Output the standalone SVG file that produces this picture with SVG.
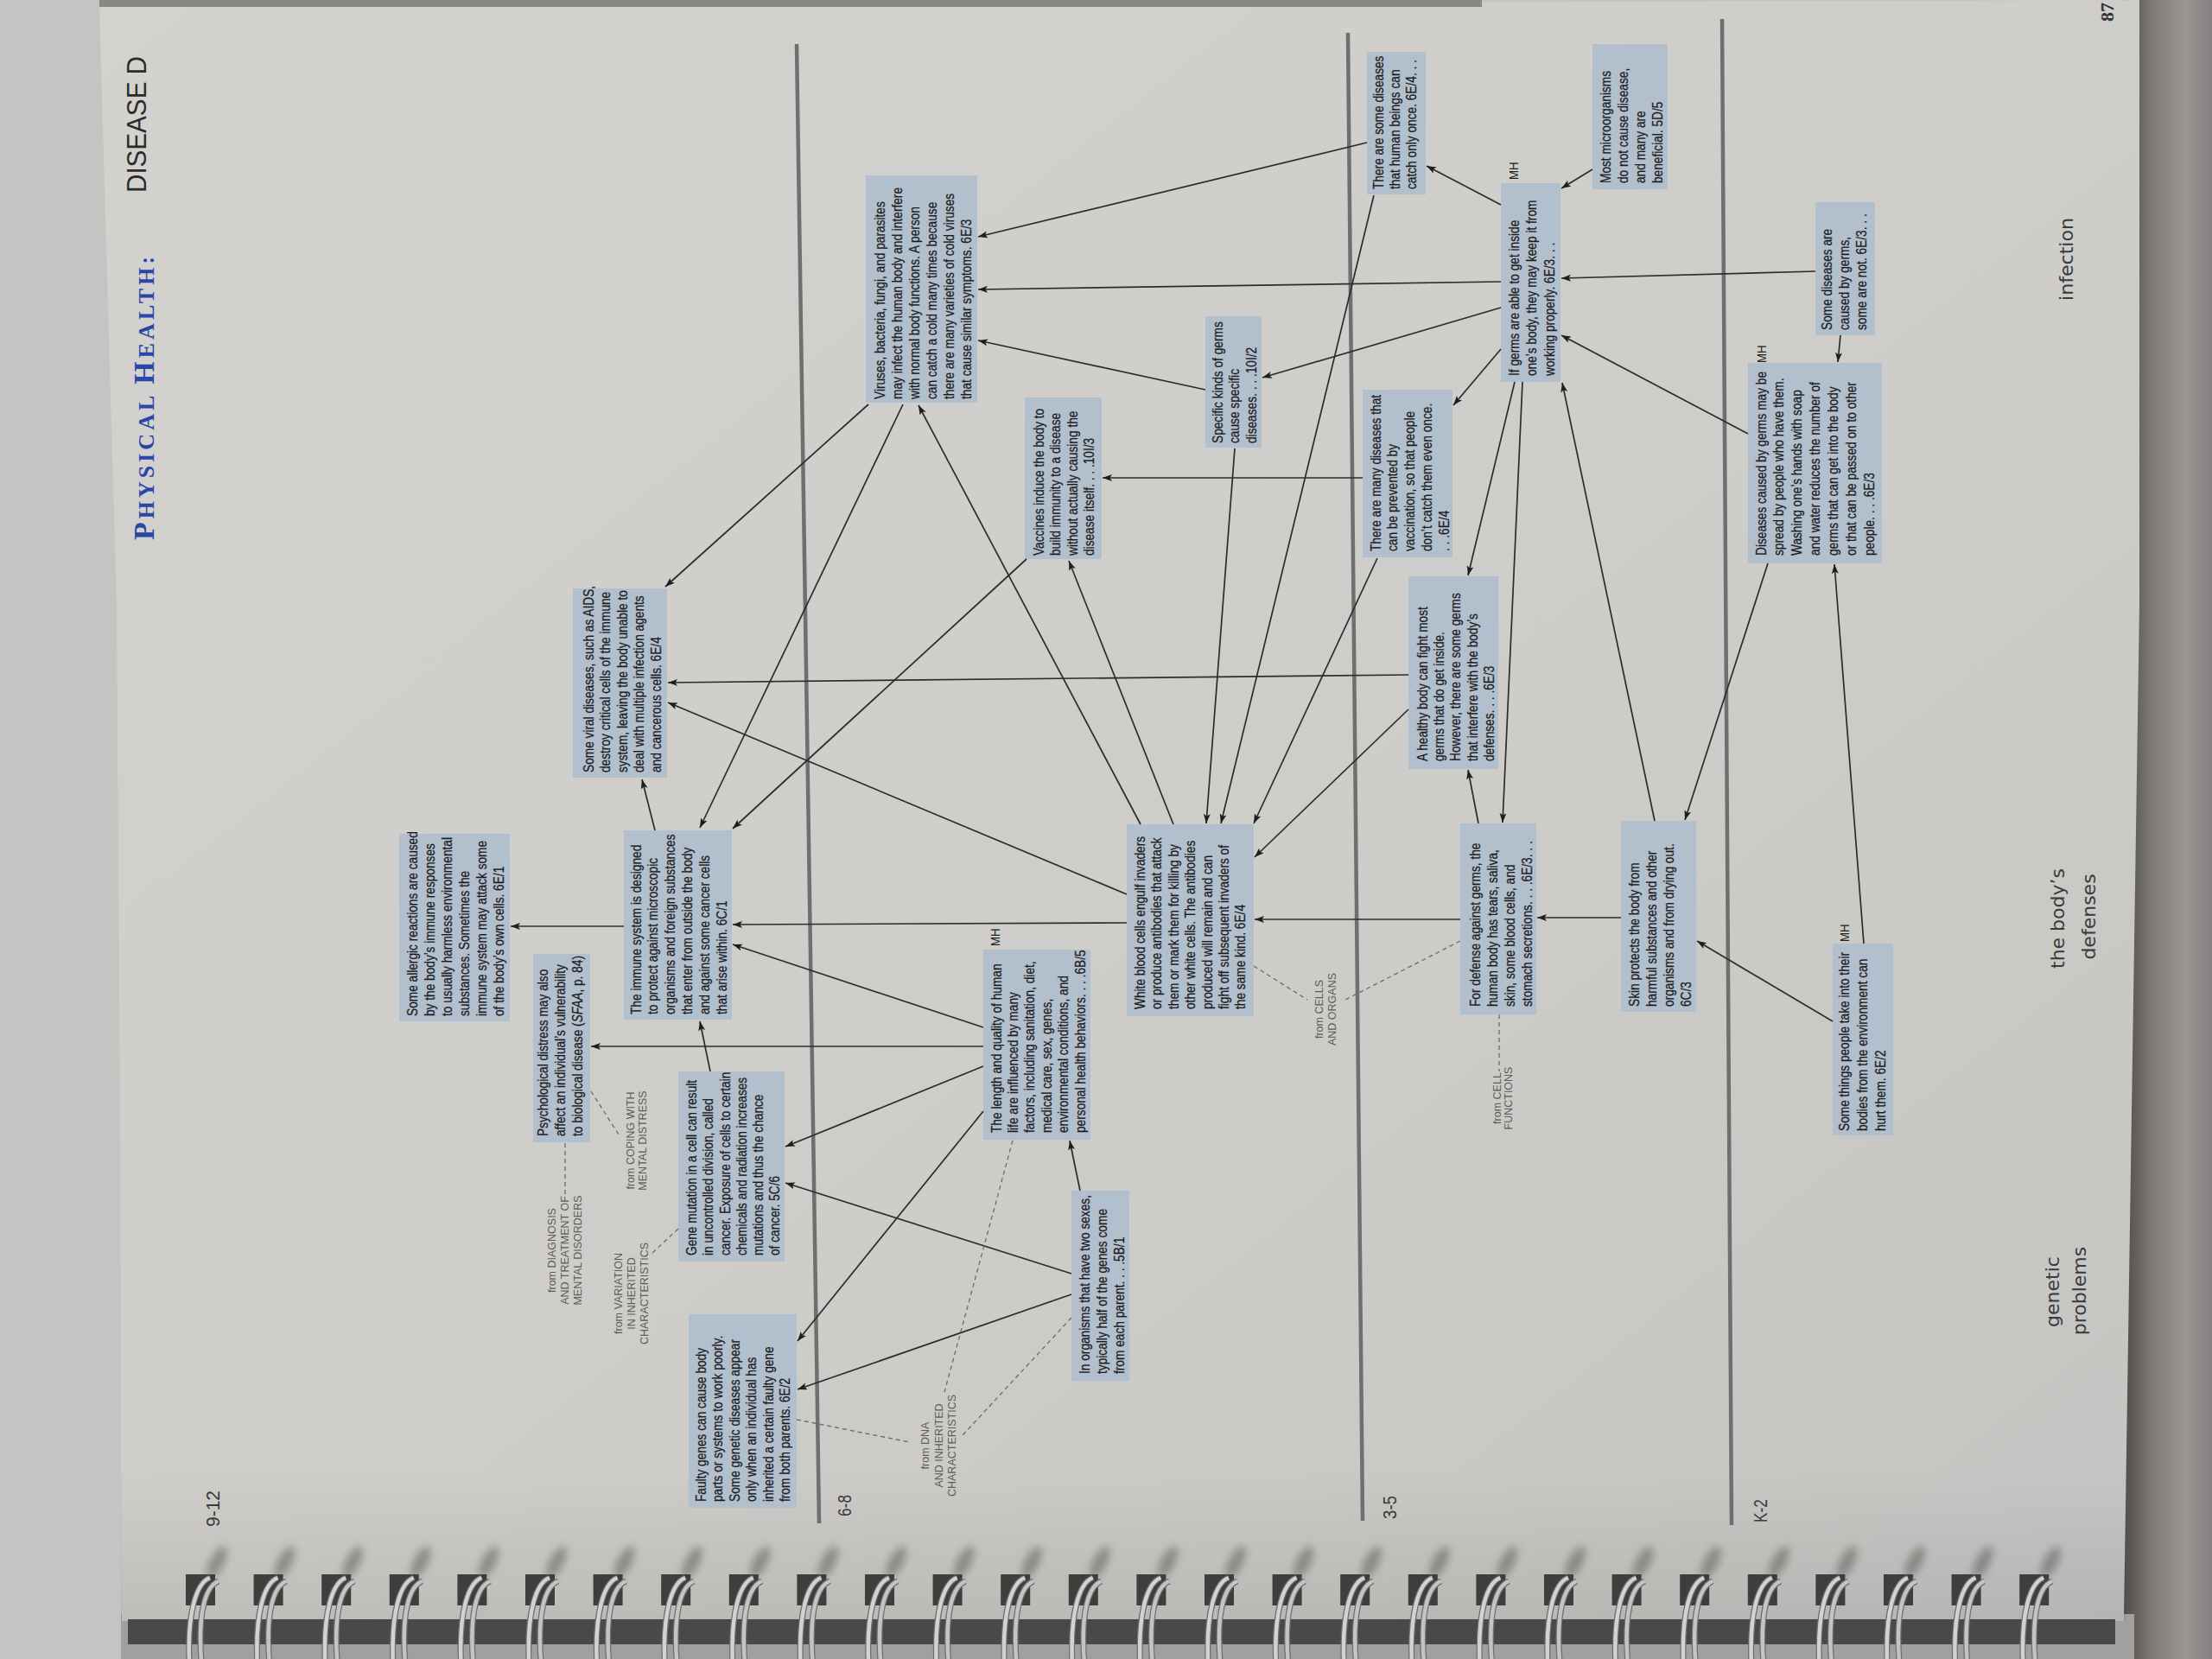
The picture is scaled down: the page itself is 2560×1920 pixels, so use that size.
<svg xmlns="http://www.w3.org/2000/svg" width="2560" height="1920" viewBox="0 0 2560 1920">
<defs>
<style>
.nb{fill:#b2bfcc}
.nt{font-family:"Liberation Sans",Arial,sans-serif;font-size:16.5px;fill:#1b1b1d;stroke:#1b1b1d;stroke-width:0.25}
.mh{font-family:"Liberation Sans",Arial,sans-serif;font-size:15px;fill:#222}
.fr{font-family:"Liberation Sans",Arial,sans-serif;font-size:12.5px;fill:#5c5c5c;text-anchor:middle}
.c{stroke:#2c2c2c;stroke-width:1.7;fill:none;marker-end:url(#ah)}
.d{stroke:#6b6b6b;stroke-width:1.3;fill:none;stroke-dasharray:5 4}
.dv{stroke:#6f6f72;stroke-width:4.5}
.gr{font-family:"Liberation Sans",Arial,sans-serif;font-size:22px;fill:#3a3a3a}
.tp{font-family:"DejaVu Sans",Verdana,sans-serif;font-size:22px;fill:#3b3b3b}
</style>
<marker id="ah" markerUnits="userSpaceOnUse" markerWidth="13" markerHeight="9" refX="11" refY="4" orient="auto"><path d="M0,0 L11,4 L0,8 L2.5,4 z" fill="#1e1e1e"/></marker>
<linearGradient id="paper" x1="0" y1="0" x2="1" y2="1"><stop offset="0" stop-color="#d3d2ce"/><stop offset="0.55" stop-color="#cecdc9"/><stop offset="1" stop-color="#c4c4c2"/></linearGradient>
<linearGradient id="rside" x1="0" y1="0" x2="1" y2="0"><stop offset="0" stop-color="#4c4846"/><stop offset="0.35" stop-color="#7f7b79"/><stop offset="0.7" stop-color="#9a9694"/><stop offset="1" stop-color="#858180"/></linearGradient>
<linearGradient id="bshade" x1="0" y1="0" x2="0" y2="1"><stop offset="0" stop-color="#000" stop-opacity="0"/><stop offset="1" stop-color="#000" stop-opacity="0.08"/></linearGradient>
<filter id="bl" x="-50%" y="-50%" width="200%" height="200%"><feGaussianBlur stdDeviation="5"/></filter>
<g id="ring">
<ellipse cx="36" cy="-14" rx="8" ry="20" transform="rotate(28 36 -14)" fill="#4a4846" opacity="0.45" filter="url(#bl)"/>
<rect x="0" y="0" width="34" height="36" fill="#403e3d"/>
<path d="M28,4 C12,10 2,44 4,100" stroke="#6e6e6e" stroke-width="7" fill="none"/>
<path d="M28,4 C12,10 2,44 4,100" stroke="#d2d2d2" stroke-width="4.5" fill="none"/>
<path d="M38,8 C22,14 14,46 18,100" stroke="#6e6e6e" stroke-width="7" fill="none"/>
<path d="M38,8 C22,14 14,46 18,100" stroke="#c4c4c4" stroke-width="4.5" fill="none"/>
</g>
</defs>

<!-- background -->
<rect x="0" y="0" width="2560" height="1920" fill="#c6c4c3"/>
<rect x="2455" y="0" width="105" height="1920" fill="url(#rside)"/>
<rect x="140" y="1868" width="2330" height="52" fill="#a2a09f"/>
<polygon points="115,8 2476,0 2476,700 2458,1876 141,1876 139,1300 135,700" fill="url(#paper)"/>
<rect x="140" y="1700" width="2320" height="176" fill="url(#bshade)"/>
<rect x="115" y="0" width="1600" height="8" fill="#8a8887"/>
<rect x="148" y="1874" width="2300" height="29" fill="#4b4948"/>

<!-- binding rings -->
<g id="binding">
<use href="#ring" x="215" y="1822"/><use href="#ring" x="293.6" y="1822"/><use href="#ring" x="372.2" y="1822"/><use href="#ring" x="450.8" y="1822"/><use href="#ring" x="529.4" y="1822"/><use href="#ring" x="608" y="1822"/><use href="#ring" x="686.6" y="1822"/><use href="#ring" x="765.2" y="1822"/><use href="#ring" x="843.8" y="1822"/><use href="#ring" x="922.4" y="1822"/><use href="#ring" x="1001" y="1822"/><use href="#ring" x="1079.6" y="1822"/><use href="#ring" x="1158.2" y="1822"/><use href="#ring" x="1236.8" y="1822"/><use href="#ring" x="1315.4" y="1822"/><use href="#ring" x="1394" y="1822"/><use href="#ring" x="1472.6" y="1822"/><use href="#ring" x="1551.2" y="1822"/><use href="#ring" x="1629.8" y="1822"/><use href="#ring" x="1708.4" y="1822"/><use href="#ring" x="1787" y="1822"/><use href="#ring" x="1865.6" y="1822"/><use href="#ring" x="1944.2" y="1822"/><use href="#ring" x="2022.8" y="1822"/><use href="#ring" x="2101.4" y="1822"/><use href="#ring" x="2180" y="1822"/><use href="#ring" x="2258.6" y="1822"/><use href="#ring" x="2337.2" y="1822"/>
</g>

<!-- grade dividers -->
<g id="dividers">
<line class="dv" x1="922" y1="51" x2="948" y2="1763"/>
<line class="dv" x1="1560" y1="38" x2="1577" y2="1760"/>
<line class="dv" x1="1993" y1="22" x2="2004" y2="1765"/>
</g>

<!-- headings and labels -->
<g id="labels">
<text transform="translate(178,625) rotate(-90)" font-family="Liberation Serif,serif" font-weight="bold" fill="#2a47a8" letter-spacing="4"><tspan font-size="34">P</tspan><tspan font-size="26">HYSICAL </tspan><tspan font-size="34">H</tspan><tspan font-size="26">EALTH:</tspan></text>
<text transform="translate(169,223) rotate(-90)" font-family="Liberation Sans,Arial,sans-serif" font-size="31" fill="#2b2b2b" textLength="158" lengthAdjust="spacingAndGlyphs">DISEASE D</text>
<text transform="translate(2446,25) rotate(-90)" font-family="Liberation Serif,serif" font-weight="bold" font-size="22" fill="#333">87</text>
<text class="gr" transform="translate(253.5,1767) rotate(-90)" textLength="42" lengthAdjust="spacingAndGlyphs">9-12</text>
<text class="gr" transform="translate(984.5,1755) rotate(-90)" textLength="25" lengthAdjust="spacingAndGlyphs">6-8</text>
<text class="gr" transform="translate(1616,1758) rotate(-90)" textLength="27" lengthAdjust="spacingAndGlyphs">3-5</text>
<text class="gr" transform="translate(2044.5,1762) rotate(-90)" textLength="27" lengthAdjust="spacingAndGlyphs">K-2</text>
<text class="tp" transform="translate(2399,348) rotate(-90)" textLength="96" lengthAdjust="spacingAndGlyphs">infection</text>
<text class="tp" text-anchor="middle" transform="translate(2389,1063) rotate(-90)">the body’s</text>
<text class="tp" text-anchor="middle" transform="translate(2425,1061) rotate(-90)">defenses</text>
<text class="tp" text-anchor="middle" transform="translate(2383,1495) rotate(-90)">genetic</text>
<text class="tp" text-anchor="middle" transform="translate(2414,1494) rotate(-90)">problems</text>
<text class="fr" transform="translate(643,1447) rotate(-90)"><tspan x="0" y="0">from DIAGNOSIS</tspan><tspan x="0" y="15">AND TREATMENT OF</tspan><tspan x="0" y="30">MENTAL DISORDERS</tspan></text>
<text class="fr" transform="translate(733.5,1320) rotate(-90)"><tspan x="0" y="0">from COPING WITH</tspan><tspan x="0" y="14.5">MENTAL DISTRESS</tspan></text>
<text class="fr" transform="translate(719.5,1497) rotate(-90)"><tspan x="0" y="0">from VARIATION</tspan><tspan x="0" y="15.5">IN INHERITED</tspan><tspan x="0" y="30">CHARACTERISTICS</tspan></text>
<text class="fr" transform="translate(1074.5,1673) rotate(-90)"><tspan x="0" y="0">from DNA</tspan><tspan x="0" y="16">AND INHERITED</tspan><tspan x="0" y="31">CHARACTERISTICS</tspan></text>
<text class="fr" transform="translate(1530.5,1168) rotate(-90)"><tspan x="0" y="0">from CELLS</tspan><tspan x="0" y="15.5">AND ORGANS</tspan></text>
<text class="fr" transform="translate(1736.5,1271) rotate(-90)"><tspan x="0" y="0">from CELL</tspan><tspan x="0" y="13.5">FUNCTIONS</tspan></text>
</g>

<!-- nodes -->
<g id="n-viral"><rect class="nb" x="663" y="681" width="109" height="219"/><text class="nt" transform="translate(686.5,894) rotate(-90) scale(.83,1)"><tspan x="0" y="0">Some viral diseases, such as AIDS,</tspan><tspan x="0" y="19.6">destroy critical cells of the immune</tspan><tspan x="0" y="39.2">system, leaving the body unable to</tspan><tspan x="0" y="58.8">deal with multiple infection agents</tspan><tspan x="0" y="78.4">and cancerous cells. 6E/4</tspan></text></g>

<g id="n-allergic"><rect class="nb" x="462" y="965" width="128" height="217"/><text class="nt" transform="translate(483,1176) rotate(-90) scale(.83,1)"><tspan x="0" y="0">Some allergic reactions are caused</tspan><tspan x="0" y="20">by the body’s immune responses</tspan><tspan x="0" y="40">to usually harmless environmental</tspan><tspan x="0" y="60">substances. Sometimes the</tspan><tspan x="0" y="80">immune system may attack some</tspan><tspan x="0" y="100">of the body’s own cells. 6E/1</tspan></text></g>

<g id="n-immune"><rect class="nb" x="722" y="961" width="125" height="219"/><text class="nt" transform="translate(741.5,1174) rotate(-90) scale(.83,1)"><tspan x="0" y="0">The immune system is designed</tspan><tspan x="0" y="20">to protect against microscopic</tspan><tspan x="0" y="40">organisms and foreign substances</tspan><tspan x="0" y="60">that enter from outside the body</tspan><tspan x="0" y="80">and against some cancer cells</tspan><tspan x="0" y="100">that arise within. 6C/1</tspan></text></g>

<g id="n-psych"><rect class="nb" x="617" y="1104" width="66" height="218"/><text class="nt" transform="translate(633.5,1315) rotate(-90) scale(.83,1)"><tspan x="0" y="0">Psychological distress may also</tspan><tspan x="0" y="20.5">affect an individual’s vulnerability</tspan><tspan x="0" y="41">to biological disease (<tspan font-style="italic">SFAA</tspan>, p. 84)</tspan></text></g>

<g id="n-mutation"><rect class="nb" x="785" y="1240" width="123" height="220"/><text class="nt" transform="translate(806,1453) rotate(-90) scale(.83,1)"><tspan x="0" y="0">Gene mutation in a cell can result</tspan><tspan x="0" y="19.3">in uncontrolled division, called</tspan><tspan x="0" y="38.6">cancer. Exposure of cells to certain</tspan><tspan x="0" y="57.9">chemicals and radiation increases</tspan><tspan x="0" y="77.2">mutations and thus the chance</tspan><tspan x="0" y="96.5">of cancer. 5C/6</tspan></text></g>

<g id="n-faulty"><rect class="nb" x="797" y="1521" width="125" height="224"/><text class="nt" transform="translate(816.5,1738) rotate(-90) scale(.83,1)"><tspan x="0" y="0">Faulty genes can cause body</tspan><tspan x="0" y="19.6">parts or systems to work poorly.</tspan><tspan x="0" y="39.2">Some genetic diseases appear</tspan><tspan x="0" y="58.8">only when an individual has</tspan><tspan x="0" y="78.4">inherited a certain faulty gene</tspan><tspan x="0" y="98">from both parents. 6E/2</tspan></text></g>

<g id="n-length"><rect class="nb" x="1138" y="1099" width="124" height="220"/><text class="nt" transform="translate(1158.5,1311) rotate(-90) scale(.83,1)"><tspan x="0" y="0">The length and quality of human</tspan><tspan x="0" y="19.5">life are influenced by many</tspan><tspan x="0" y="39">factors, including sanitation, diet,</tspan><tspan x="0" y="58.5">medical care, sex, genes,</tspan><tspan x="0" y="78">environmental conditions, and</tspan><tspan x="0" y="97.5">personal health behaviors. . . .6B/5</tspan></text><text class="mh" transform="translate(1156.5,1095) rotate(-90) scale(.88,1)">MH</text></g>

<g id="n-twosexes"><rect class="nb" x="1240" y="1378" width="67" height="220"/><text class="nt" transform="translate(1261,1590) rotate(-90) scale(.83,1)"><tspan x="0" y="0">In organisms that have two sexes,</tspan><tspan x="0" y="20">typically half of the genes come</tspan><tspan x="0" y="40">from each parent. . . .5B/1</tspan></text></g>

<g id="n-viruses"><rect class="nb" x="1002" y="203" width="129" height="263"/><text class="nt" transform="translate(1023.5,462) rotate(-90) scale(.83,1)"><tspan x="0" y="0">Viruses, bacteria, fungi, and parasites</tspan><tspan x="0" y="20.2">may infect the human body and interfere</tspan><tspan x="0" y="40.4">with normal body functions. A person</tspan><tspan x="0" y="60.6">can catch a cold many times because</tspan><tspan x="0" y="80.8">there are many varieties of cold viruses</tspan><tspan x="0" y="101">that cause similar symptoms. 6E/3</tspan></text></g>

<g id="n-vaccines"><rect class="nb" x="1186" y="460" width="89" height="187"/><text class="nt" transform="translate(1208,643) rotate(-90) scale(.83,1)"><tspan x="0" y="0">Vaccines induce the body to</tspan><tspan x="0" y="19.5">build immunity to a disease</tspan><tspan x="0" y="39">without actually causing the</tspan><tspan x="0" y="58.5">disease itself. . . .10I/3</tspan></text></g>

<g id="n-specific"><rect class="nb" x="1395" y="366" width="65" height="152"/><text class="nt" transform="translate(1414.5,513) rotate(-90) scale(.83,1)"><tspan x="0" y="0">Specific kinds of germs</tspan><tspan x="0" y="20">cause specific</tspan><tspan x="0" y="40">diseases. . . .10I/2</tspan></text></g>

<g id="n-white"><rect class="nb" x="1304" y="954" width="147" height="222"/><text class="nt" transform="translate(1325,1168) rotate(-90) scale(.83,1)"><tspan x="0" y="0">White blood cells engulf invaders</tspan><tspan x="0" y="19.4">or produce antibodies that attack</tspan><tspan x="0" y="38.8">them or mark them for killing by</tspan><tspan x="0" y="58.2">other white cells. The antibodies</tspan><tspan x="0" y="77.6">produced will remain and can</tspan><tspan x="0" y="97">fight off subsequent invaders of</tspan><tspan x="0" y="116.4">the same kind. 6E/4</tspan></text></g>

<g id="n-once"><rect class="nb" x="1582" y="60" width="68" height="165"/><text class="nt" transform="translate(1600.5,219) rotate(-90) scale(.83,1)"><tspan x="0" y="0">There are some diseases</tspan><tspan x="0" y="19.5">that human beings can</tspan><tspan x="0" y="39">catch only once. 6E/4. . .</tspan></text></g>

<g id="n-prevented"><rect class="nb" x="1577" y="451" width="104" height="194"/><text class="nt" transform="translate(1597.5,638) rotate(-90) scale(.83,1)"><tspan x="0" y="0">There are many diseases that</tspan><tspan x="0" y="19.8">can be prevented by</tspan><tspan x="0" y="39.6">vaccination, so that people</tspan><tspan x="0" y="59.4">don’t catch them even once.</tspan><tspan x="0" y="79.2">. . .6E/4</tspan></text></g>

<g id="n-germs-inside"><rect class="nb" x="1737" y="212" width="69" height="230"/><text class="nt" transform="translate(1758,435) rotate(-90) scale(.83,1)"><tspan x="0" y="0">If germs are able to get inside</tspan><tspan x="0" y="20.5">one’s body, they may keep it from</tspan><tspan x="0" y="41">working properly. 6E/3. . .</tspan></text><text class="mh" transform="translate(1756.5,208) rotate(-90) scale(.88,1)">MH</text></g>

<g id="n-micro"><rect class="nb" x="1843" y="51" width="87" height="168"/><text class="nt" transform="translate(1863.5,212) rotate(-90) scale(.83,1)"><tspan x="0" y="0">Most microorganisms</tspan><tspan x="0" y="20.3">do not cause disease,</tspan><tspan x="0" y="40.6">and many are</tspan><tspan x="0" y="60.9">beneficial. 5D/5</tspan></text></g>

<g id="n-some-germs"><rect class="nb" x="2101" y="234" width="69" height="154"/><text class="nt" transform="translate(2119.5,382) rotate(-90) scale(.83,1)"><tspan x="0" y="0">Some diseases are</tspan><tspan x="0" y="20.5">caused by germs,</tspan><tspan x="0" y="41">some are not. 6E/3. . .</tspan></text></g>

<g id="n-spread"><rect class="nb" x="2023" y="420" width="155" height="232"/><text class="nt" transform="translate(2043.5,643) rotate(-90) scale(.83,1)"><tspan x="0" y="0">Diseases caused by germs may be</tspan><tspan x="0" y="21">spread by people who have them.</tspan><tspan x="0" y="42">Washing one’s hands with soap</tspan><tspan x="0" y="63">and water reduces the number of</tspan><tspan x="0" y="84">germs that can get into the body</tspan><tspan x="0" y="105">or that can be passed on to other</tspan><tspan x="0" y="126">people. . . .6E/3</tspan></text><text class="mh" transform="translate(2043.5,420) rotate(-90) scale(.88,1)">MH</text></g>

<g id="n-healthy"><rect class="nb" x="1630" y="667" width="104" height="223"/><text class="nt" transform="translate(1651.5,881) rotate(-90) scale(.83,1)"><tspan x="0" y="0">A healthy body can fight most</tspan><tspan x="0" y="19.5">germs that do get inside.</tspan><tspan x="0" y="39">However, there are some germs</tspan><tspan x="0" y="58.5">that interfere with the body’s</tspan><tspan x="0" y="78">defenses. . . .6E/3</tspan></text></g>

<g id="n-defense"><rect class="nb" x="1690" y="953" width="88" height="221"/><text class="nt" transform="translate(1712.5,1165) rotate(-90) scale(.83,1)"><tspan x="0" y="0">For defense against germs, the</tspan><tspan x="0" y="20.3">human body has tears, saliva,</tspan><tspan x="0" y="40.6">skin, some blood cells, and</tspan><tspan x="0" y="60.9">stomach secretions. . . .6E/3. . .</tspan></text></g>

<g id="n-skin"><rect class="nb" x="1876" y="950" width="87" height="221"/><text class="nt" transform="translate(1896.5,1165) rotate(-90) scale(.83,1)"><tspan x="0" y="0">Skin protects the body from</tspan><tspan x="0" y="20.3">harmful substances and other</tspan><tspan x="0" y="40.6">organisms and from drying out.</tspan><tspan x="0" y="60.9">6C/3</tspan></text></g>

<g id="n-environment"><rect class="nb" x="2121" y="1092" width="70" height="222"/><text class="nt" transform="translate(2139.5,1309) rotate(-90) scale(.83,1)"><tspan x="0" y="0">Some things people take into their</tspan><tspan x="0" y="21.5">bodies from the environment can</tspan><tspan x="0" y="43">hurt them. 6E/2</tspan></text><text class="mh" transform="translate(2139.5,1090) rotate(-90) scale(.88,1)">MH</text></g>

<!-- connectors -->
<g id="connectors">
<line class="c" x1="1005" y1="468" x2="770" y2="679"/>
<line class="c" x1="1045" y1="468" x2="810" y2="958"/>
<line class="c" x1="1320" y1="954" x2="1063" y2="469"/>
<line class="c" x1="1358" y1="954" x2="1237" y2="649"/>
<line class="c" x1="1188" y1="647" x2="848" y2="959"/>
<line class="c" x1="758" y1="961" x2="743" y2="902"/>
<line class="c" x1="722" y1="1072" x2="591" y2="1072"/>
<line class="c" x1="1304" y1="1068" x2="848" y2="1070"/>
<line class="c" x1="1138" y1="1189" x2="848" y2="1093"/>
<line class="c" x1="1138" y1="1211" x2="684" y2="1211"/>
<line class="c" x1="1138" y1="1234" x2="909" y2="1327"/>
<line class="c" x1="1138" y1="1286" x2="923" y2="1552"/>
<line class="c" x1="822" y1="1240" x2="810" y2="1182"/>
<line class="c" x1="1250" y1="1378" x2="1238" y2="1320"/>
<line class="c" x1="1240" y1="1474" x2="909" y2="1369"/>
<line class="c" x1="1240" y1="1498" x2="923" y2="1608"/>
<line class="c" x1="1304" y1="1035" x2="773" y2="813"/>
<line class="c" x1="1630" y1="781" x2="773" y2="790"/>
<line class="c" x1="1429" y1="519" x2="1396" y2="953"/>
<line class="c" x1="1590" y1="226" x2="1413" y2="953"/>
<line class="c" x1="1594" y1="646" x2="1451" y2="953"/>
<line class="c" x1="1630" y1="821" x2="1452" y2="992"/>
<line class="c" x1="1690" y1="1064" x2="1452" y2="1064"/>
<line class="c" x1="1582" y1="165" x2="1132" y2="274"/>
<line class="c" x1="1737" y1="326" x2="1132" y2="335"/>
<line class="c" x1="1395" y1="451" x2="1132" y2="394"/>
<line class="c" x1="1577" y1="553" x2="1276" y2="553"/>
<line class="c" x1="1737" y1="237" x2="1651" y2="192"/>
<line class="c" x1="1843" y1="196" x2="1807" y2="218"/>
<line class="c" x1="2101" y1="314" x2="1807" y2="322"/>
<line class="c" x1="1737" y1="356" x2="1461" y2="437"/>
<line class="c" x1="1737" y1="404" x2="1682" y2="469"/>
<line class="c" x1="1753" y1="442" x2="1699" y2="666"/>
<line class="c" x1="1762" y1="442" x2="1739" y2="952"/>
<line class="c" x1="1915" y1="950" x2="1808" y2="443"/>
<line class="c" x1="2023" y1="502" x2="1807" y2="388"/>
<line class="c" x1="2130" y1="388" x2="2127" y2="419"/>
<line class="c" x1="2157" y1="1092" x2="2123" y2="653"/>
<line class="c" x1="2046" y1="652" x2="1950" y2="949"/>
<line class="c" x1="2121" y1="1182" x2="1964" y2="1089"/>
<line class="c" x1="1876" y1="1062" x2="1779" y2="1062"/>
<line class="c" x1="1711" y1="953" x2="1699" y2="891"/>
<line class="d" x1="654" y1="1323" x2="654" y2="1382"/>
<line class="d" x1="684" y1="1263" x2="716" y2="1313"/>
<line class="d" x1="785" y1="1422" x2="754" y2="1451"/>
<line class="d" x1="922" y1="1643" x2="1053" y2="1669"/>
<line class="d" x1="1172" y1="1320" x2="1093" y2="1611"/>
<line class="d" x1="1240" y1="1525" x2="1114" y2="1661"/>
<line class="d" x1="1451" y1="1118" x2="1513" y2="1157"/>
<line class="d" x1="1690" y1="1089" x2="1555" y2="1158"/>
<line class="d" x1="1735" y1="1174" x2="1735" y2="1240"/>
</g>
</svg>
